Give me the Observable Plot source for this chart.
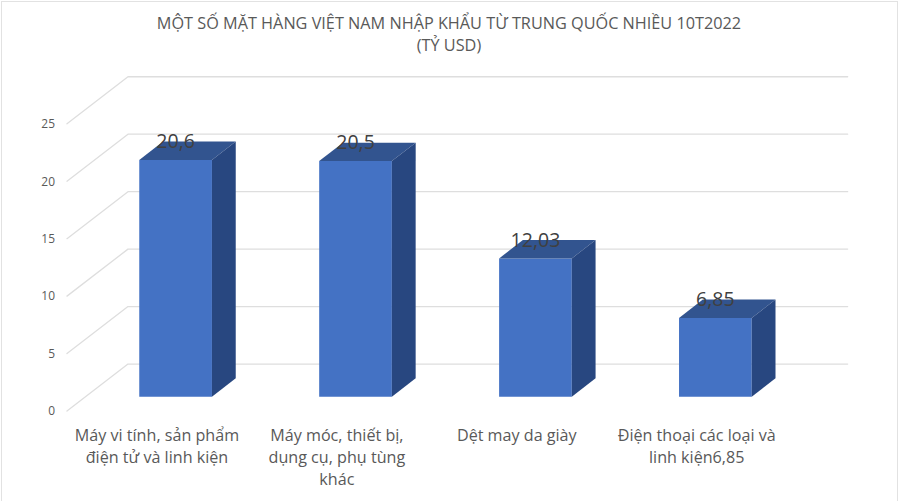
<!DOCTYPE html>
<html><head><meta charset="utf-8">
<script src="https://cdn.jsdelivr.net/npm/d3@7"></script>
<script src="https://cdn.jsdelivr.net/npm/@observablehq/plot@0.6"></script>
<style>
html,body{margin:0;padding:0;background:#fff;}
#frame{position:relative;width:895px;height:499px;border:1.5px solid #e2e2e2;left:0.5px;top:0.5px;box-sizing:content-box;overflow:hidden;background:#fff;}
#title{position:absolute;left:0;top:10px;width:895px;text-align:center;font:16.25px/22.5px "Open Sans",sans-serif;color:#595959;}
#chart{position:absolute;left:-2px;top:60px;}
</style></head><body>
<div id="frame"><div id="title">MỘT SỐ MẶT HÀNG VIỆT NAM NHẬP KHẨU TỪ TRUNG QUỐC NHIỀU 10T2022<br>(TỶ USD)</div><div id="chart"></div></div>
<script>
const categories = ["Máy vi tính, sản phẩm\nđiện tử và linh kiện","Máy móc, thiết bị,\ndụng cụ, phụ tùng\nkhác","Dệt may da giày","Điện thoại các loại và\nlinh kiện6,85"];
const values = [20.6,20.5,12.03,6.85];
const valueLabels = ["20,6","20,5","12,03","6,85"];
const yTicks = [0,5,10,15,20,25];
// oblique depth of the 3D box, in data units
const depthX = 0.339, depthY = 4.09;
const barWidth = 0.404, barFrontT = 0.306, barBackT = 0.696;
const proj = (c,v,t) => ({x:c+t*depthX, y:v+t*depthY});

const grid = yTicks.flatMap(v => [
  {...proj(0,v,0),v},{...proj(0,v,1),v},{...proj(categories.length,v,1),v}
]);
const faces = values.flatMap((v,i) => {
  const l=i+0.5-barWidth/2, r=i+0.5+barWidth/2;
  const poly=(id,pts)=>pts.map(p=>({...proj(...p),id:id+i}));
  return {
    front:poly("f",[[l,0,barFrontT],[r,0,barFrontT],[r,v,barFrontT],[l,v,barFrontT]]),
    side:poly("s",[[r,0,barFrontT],[r,0,barBackT],[r,v,barBackT],[r,v,barFrontT]]),
    top:poly("t",[[l,v,barFrontT],[r,v,barFrontT],[r,v,barBackT],[l,v,barBackT]])
  };
});
const pts = k => faces.flatMap(f=>f[k]);
const labels = values.map((v,i)=>({...proj(i+0.5,v,barFrontT),t:valueLabels[i]}));
const cats = categories.map((t,i)=>({x:i+0.5,y:0,t}));

const plot = Plot.plot({
  width:900,height:440,
  marginLeft:66.7,marginRight:50,marginTop:14.3,marginBottom:90.3,
  style:{fontFamily:'"Open Sans",sans-serif',background:"transparent",overflow:"visible"},
  x:{domain:[0,categories.length+depthX],axis:null},
  y:{domain:[0,25+depthY],axis:null},
  marks:[
    Plot.line(grid,{x:"x",y:"y",z:"v",stroke:"#dedede",strokeWidth:1.3}),
    Plot.text(yTicks,{x:0,y:d=>d,text:d=>String(d),textAnchor:"end",dx:-12,dy:0.5,fontSize:12,fill:"#595959"}),
    Plot.line(pts("front"),{x:"x",y:"y",z:"id",fill:"#4472c4",stroke:"none"}),
    Plot.line(pts("top"),{x:"x",y:"y",z:"id",fill:"#32548f",stroke:"none"}),
    Plot.line(pts("side"),{x:"x",y:"y",z:"id",fill:"#284780",stroke:"none"}),
    Plot.text(labels,{x:"x",y:"y",text:"t",dy:-18,fontSize:19.6,fill:"#404040"}),
    Plot.text(cats,{x:"x",y:"y",text:"t",lineAnchor:"top",dy:14,fontSize:16.2,lineHeight:1.38,fill:"#595959"})
  ]
});
document.getElementById("chart").append(plot);
</script>
</body></html>
